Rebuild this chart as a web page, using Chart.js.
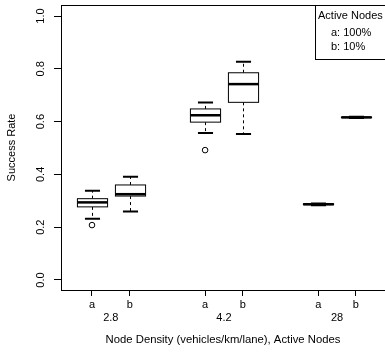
<!DOCTYPE html>
<html lang="en">
<head>
    <meta charset="UTF-8">
    <title>Success Rate boxplot</title>
    <script src="https://cdn.jsdelivr.net/npm/chart.js"></script>
    <style>
        html, body { margin: 0; padding: 0; background: #fff; overflow: hidden; }
        #wrap { width: 385px; height: 352px; }
        canvas { display: block; }
    </style>
</head>
<body>
    <div id="wrap"><canvas id="boxChart" width="385" height="352"></canvas></div>
    <script>
        // Data
        const densities = ['2.8', '4.2', '28'];
        const activeLabels = ['a', 'b'];
        const positions = [1, 2, 4, 5, 7, 8];
        const whiskerLow = [0.232, 0.259, 0.557, 0.553, 0.283, 0.614];
        const q1 = [0.277, 0.318, 0.598, 0.673, 0.285, 0.615];
        const median = [0.294, 0.325, 0.624, 0.742, 0.287, 0.616];
        const q3 = [0.308, 0.360, 0.648, 0.785, 0.289, 0.617];
        const whiskerHigh = [0.338, 0.391, 0.672, 0.827, 0.290, 0.618];
        const outlierPos = [1, 4];
        const outlierVal = [0.208, 0.492];
        const groupCenters = [1.5, 4.5, 7.5];
        const yTicks = [0, 0.2, 0.4, 0.6, 0.8, 1.0];
        const legendTitle = 'Active Nodes';
        const legendLines = ['a: 100%', 'b: 10%'];

        const FONT = "'Liberation Sans', Arial, Helvetica, sans-serif";

        // Boxes, whiskers, frame, y labels and legend box
        const boxPlugin = {
            id: 'boxes',
            afterDatasetsDraw(chart) {
                const ctx = chart.ctx;
                const xs = chart.scales.x;
                const ys = chart.scales.y;
                const area = chart.chartArea;
                const halfBox = xs.getPixelForValue(0.4) - xs.getPixelForValue(0);
                const halfCap = halfBox / 2;
                ctx.save();
                ctx.strokeStyle = '#000';
                positions.forEach((p, i) => {
                    const cx = Math.round(xs.getPixelForValue(p)) + 0.5;
                    const yLo = ys.getPixelForValue(whiskerLow[i]);
                    const yQ1 = ys.getPixelForValue(q1[i]);
                    const yMed = ys.getPixelForValue(median[i]);
                    const yQ3 = ys.getPixelForValue(q3[i]);
                    const yHi = ys.getPixelForValue(whiskerHigh[i]);
                    // whiskers
                    ctx.lineWidth = 1;
                    ctx.setLineDash([3, 3]);
                    ctx.beginPath();
                    ctx.moveTo(cx, yQ1); ctx.lineTo(cx, yLo);
                    ctx.moveTo(cx, yQ3); ctx.lineTo(cx, yHi);
                    ctx.stroke();
                    ctx.setLineDash([]);
                    // caps
                    ctx.lineWidth = 2;
                    ctx.beginPath();
                    ctx.moveTo(cx - halfCap, yLo); ctx.lineTo(cx + halfCap, yLo);
                    ctx.moveTo(cx - halfCap, yHi); ctx.lineTo(cx + halfCap, yHi);
                    ctx.stroke();
                    // box
                    ctx.lineWidth = 1;
                    ctx.fillStyle = '#fff';
                    ctx.fillRect(cx - halfBox, yQ3, halfBox * 2, yQ1 - yQ3);
                    ctx.strokeRect(cx - halfBox, yQ3, halfBox * 2, yQ1 - yQ3);
                    // median
                    ctx.lineWidth = 2.5;
                    ctx.beginPath();
                    ctx.moveTo(cx - halfBox, yMed); ctx.lineTo(cx + halfBox, yMed);
                    ctx.stroke();
                });

                // top frame line (right side falls outside the picture)
                ctx.lineWidth = 1;
                ctx.beginPath();
                ctx.moveTo(area.left, area.top + 0.5);
                ctx.lineTo(area.right, area.top + 0.5);
                ctx.stroke();

                // y tick labels, rotated like R's las=0
                ctx.fillStyle = '#000';
                ctx.font = '11px ' + FONT;
                ctx.textAlign = 'center';
                ctx.textBaseline = 'middle';
                yTicks.forEach(v => {
                    ctx.save();
                    ctx.translate(41, ys.getPixelForValue(v));
                    ctx.rotate(-Math.PI / 2);
                    ctx.fillText(v.toFixed(1), 0, 0);
                    ctx.restore();
                });

                // legend box
                ctx.fillStyle = '#fff';
                ctx.fillRect(315.5, area.top + 0.5, 80, 54);
                ctx.strokeRect(315.5, area.top + 0.5, 80, 54);
                ctx.fillStyle = '#000';
                ctx.textAlign = 'left';
                ctx.fillText(legendTitle, 318, 16);
                legendLines.forEach((t, i) => ctx.fillText(t, 331, 33 + i * 14));
                ctx.restore();
            }
        };

        const outliers = outlierPos.map((p, i) => ({ x: p, y: outlierVal[i] }));

        new Chart(document.getElementById('boxChart'), {
            type: 'scatter',
            data: {
                datasets: [{
                    label: 'outliers',
                    data: outliers,
                    pointStyle: 'circle',
                    pointRadius: 2.8,
                    borderColor: '#000',
                    backgroundColor: '#fff',
                    borderWidth: 1
                }]
            },
            options: {
                responsive: false,
                animation: false,
                layout: { autoPadding: false, padding: { top: 5, right: 0, left: 0, bottom: 0 } },
                plugins: { legend: { display: false }, tooltip: { enabled: false } },
                scales: {
                    x: {
                        type: 'linear',
                        position: 'bottom',
                        weight: 0,
                        min: 0.178,
                        max: 8.772,
                        afterBuildTicks: s => { s.ticks = positions.map(v => ({ value: v })); },
                        afterFit: s => { s.height = 20; s.paddingLeft = 0; s.paddingRight = 0; },
                        ticks: {
                            autoSkip: false,
                            maxRotation: 0,
                            padding: 2,
                            color: '#000',
                            font: { family: FONT, size: 11 },
                            callback: (v) => activeLabels[(positions.indexOf(v)) % 2]
                        },
                        grid: { display: true, drawOnChartArea: false, drawTicks: true, tickLength: 6, color: '#000' },
                        border: { display: true, color: '#000', width: 1 }
                    },
                    x2: {
                        type: 'linear',
                        position: 'bottom',
                        weight: 1,
                        min: 0.178,
                        max: 8.772,
                        afterBuildTicks: s => { s.ticks = groupCenters.map(v => ({ value: v })); },
                        afterFit: s => { s.height = 42; s.paddingLeft = 0; s.paddingRight = 0; },
                        ticks: {
                            autoSkip: false,
                            maxRotation: 0,
                            padding: 1,
                            color: '#000',
                            font: { family: FONT, size: 11 },
                            callback: (v) => densities[groupCenters.indexOf(v)]
                        },
                        grid: { display: false, drawTicks: false },
                        border: { display: false },
                        title: {
                            display: true,
                            text: 'Node Density (vehicles/km/lane), Active Nodes',
                            color: '#000',
                            font: { family: FONT, size: 11.3 },
                            padding: { top: 0, bottom: 5 }
                        }
                    },
                    y: {
                        type: 'linear',
                        position: 'left',
                        min: -0.0379,
                        max: 1.0417,
                        afterBuildTicks: s => { s.ticks = yTicks.map(v => ({ value: v })); },
                        afterFit: s => { s.width = 61; },
                        ticks: { display: false },
                        grid: { display: true, drawOnChartArea: false, drawTicks: true, tickLength: 7, color: '#000' },
                        border: { display: true, color: '#000', width: 1 },
                        title: {
                            display: true,
                            text: 'Success Rate',
                            color: '#000',
                            font: { family: FONT, size: 11 },
                            padding: { top: 5, bottom: 0 }
                        }
                    }
                }
            },
            plugins: [boxPlugin]
        });
    </script>
</body>
</html>
